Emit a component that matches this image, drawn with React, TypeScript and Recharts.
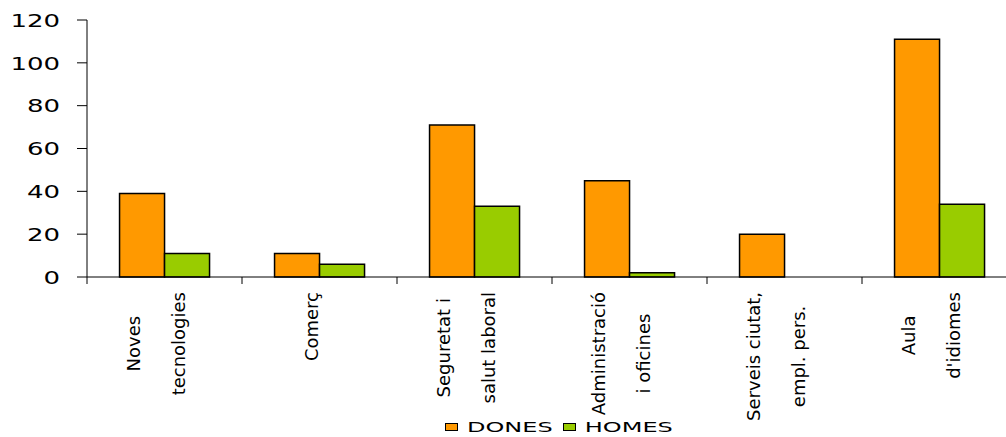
import { BarChart, Bar, XAxis, YAxis, Legend } from 'recharts';

const categories = [
  'Noves\ntecnologies',
  'Comerç',
  'Seguretat i\nsalut laboral',
  'Administració\ni oficines',
  'Serveis ciutat,\nempl. pers.',
  "Aula\nd'idiomes",
];
const dones = [39, 11, 71, 45, 20, 111];
const homes = [11, 6, 33, 2, 0, 34];
const yTicks = [0, 20, 40, 60, 80, 100, 120];

const data = categories.map((name, i) => ({ name, DONES: dones[i], HOMES: homes[i] }));

const ORANGE = '#FF9900';
const GREEN = '#99CC00';
const LABEL_FONT = '18px "DejaVu Sans"';

// measure label lines so the longest one starts right under the axis
let ctx: CanvasRenderingContext2D | null = null;
const measure = (s: string) => {
  if (!ctx) ctx = document.createElement('canvas').getContext('2d');
  if (!ctx) return s.length * 10;
  ctx.font = LABEL_FONT;
  return ctx.measureText(s).width;
};

const CategoryTick = (props: any) => {
  const { x, y, payload, width, visibleTicksCount } = props;
  const bw = width / visibleTicksCount;
  const lines: string[] = String(payload.value).split('\n');
  const maxW = Math.max(...lines.map(measure));
  const cy = y + 15 + maxW / 2;
  const last = payload.index === visibleTicksCount - 1;
  return (
    <g>
      <line x1={x - bw / 2} x2={x - bw / 2} y1={y} y2={y + 7} stroke="#000" />
      {last && <line x1={x + bw / 2} x2={x + bw / 2} y1={y} y2={y + 7} stroke="#000" />}
      {lines.map((l, i) => {
        const bx = x - 2 + (i - (lines.length - 1) / 2) * 45;
        return (
          <text
            key={i}
            transform={`translate(${bx},${cy}) rotate(-90)`}
            textAnchor="middle"
            fontFamily="DejaVu Sans"
            fontSize={18}
            fill="#000"
          >
            {l}
          </text>
        );
      })}
    </g>
  );
};

const ValueTick = (props: any) => {
  const { x, y, payload } = props;
  return (
    <text
      transform={`translate(${x},${y + 6.8}) scale(1,0.71)`}
      textAnchor="end"
      fontFamily="DejaVu Sans"
      fontSize={26}
      fill="#000"
    >
      {payload.value}
    </text>
  );
};

const LegendContent = () => {
  const items = [
    { label: 'DONES', color: ORANGE },
    { label: 'HOMES', color: GREEN },
  ];
  return (
    <div style={{ display: 'flex', alignItems: 'center', height: 20, paddingLeft: 445 }}>
      {items.map((it) => (
        <div key={it.label} style={{ display: 'flex', alignItems: 'center', marginRight: 10 }}>
          <span
            style={{
              display: 'inline-block',
              width: 11,
              height: 6,
              background: it.color,
              border: '1px solid #000',
              marginRight: 9,
            }}
          />
          <span
            style={{
              display: 'inline-block',
              fontFamily: 'DejaVu Sans',
              fontSize: 24,
              lineHeight: '20px',
              transform: 'scaleY(0.57)',
              color: '#000',
            }}
          >
            {it.label}
          </span>
        </div>
      ))}
    </div>
  );
};

export default function App() {
  return (
    <div style={{ position: 'absolute', left: 0, top: 0, width: 1006, height: 437, overflow: 'hidden', background: '#fff' }}>
      <BarChart
        width={1030}
        height={437}
        data={data}
        margin={{ top: 20, right: 13, left: 0, bottom: 0 }}
        barCategoryGap="21%"
        barGap={0}
      >
        <XAxis
          dataKey="name"
          interval={0}
          height={140}
          tickLine={false}
          tickSize={0}
          tickMargin={0}
          axisLine={{ stroke: '#000' }}
          tick={<CategoryTick />}
        />
        <YAxis
          width={87}
          domain={[0, 120]}
          ticks={yTicks}
          tickSize={10}
          tickMargin={17}
          axisLine={{ stroke: '#000' }}
          tickLine={{ stroke: '#000' }}
          tick={<ValueTick />}
        />
        <Legend
          verticalAlign="bottom"
          content={<LegendContent />}
          wrapperStyle={{ position: 'absolute', left: 0, top: 417, width: 1006, height: 20 }}
        />
        <Bar dataKey="DONES" fill={ORANGE} stroke="#000" strokeWidth={1.5} isAnimationActive={false} />
        <Bar dataKey="HOMES" fill={GREEN} stroke="#000" strokeWidth={1.5} isAnimationActive={false} />
      </BarChart>
    </div>
  );
}
